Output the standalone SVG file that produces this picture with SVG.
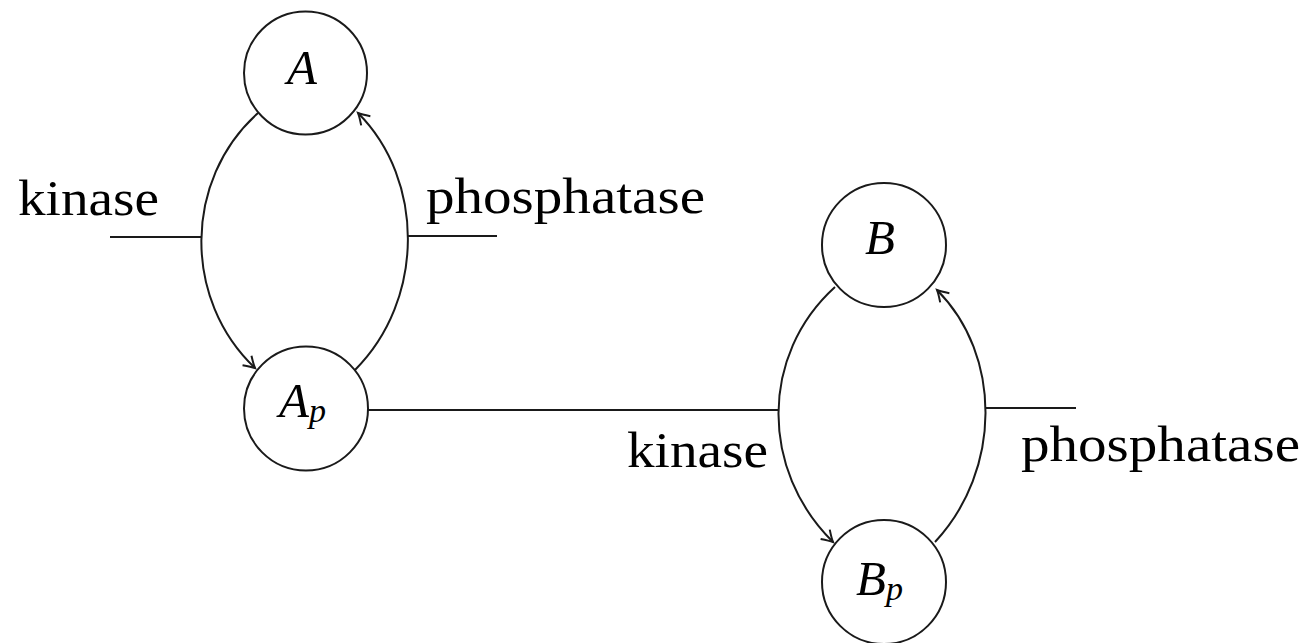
<svg xmlns="http://www.w3.org/2000/svg" width="1309" height="643" viewBox="0 0 1309 643">
<defs>
<marker id="arr" markerUnits="userSpaceOnUse" markerWidth="20" markerHeight="20" refX="0" refY="0" orient="auto" overflow="visible">
<path d="M-11,-6.5 Q-3.5,-1.5 0,0 Q-3.5,1.5 -11,6.5" fill="none" stroke="#1a1a1a" stroke-width="2"/>
</marker>
</defs>
<style>
.node{fill:#fff;stroke:#1a1a1a;stroke-width:2}
.edge{fill:none;stroke:#1a1a1a;stroke-width:2}
.lbl{font-family:"Liberation Serif","DejaVu Serif",serif;font-size:51px;fill:#000}
.math{font-family:"Liberation Serif","DejaVu Serif",serif;font-style:italic;font-size:49px;fill:#000}
.sub{font-size:34px}
</style>
<rect width="1309" height="643" fill="#fff"/>
<g id="connectors">
<path class="edge" d="M258,113 C183,180 183,300 255,368" marker-end="url(#arr)"/>
<path class="edge" d="M355,370 C425,300 425,180 358,113" marker-end="url(#arr)"/>
<path class="edge" d="M835,287 C760,355 760,470 833,542" marker-end="url(#arr)"/>
<path class="edge" d="M935,542 C1002,470 1002,355 937,290" marker-end="url(#arr)"/>
<line class="edge" x1="110" y1="237" x2="202" y2="237"/>
<line class="edge" x1="408" y1="236" x2="497" y2="236"/>
<line class="edge" x1="368" y1="410" x2="779" y2="410"/>
<line class="edge" x1="985" y1="408" x2="1076" y2="408"/>
</g>
<g id="labels">
<text class="lbl" x="18" y="215" textLength="141" lengthAdjust="spacingAndGlyphs">kinase</text>
<text class="lbl" x="426" y="213" textLength="279" lengthAdjust="spacingAndGlyphs">phosphatase</text>
<text class="lbl" x="627" y="467" textLength="141" lengthAdjust="spacingAndGlyphs">kinase</text>
<text class="lbl" x="1021" y="461" textLength="279" lengthAdjust="spacingAndGlyphs">phosphatase</text>
</g>
<g id="node-A">
<circle class="node" cx="305.5" cy="73" r="61.5"/>
<text class="math" x="302" y="84" text-anchor="middle">A</text>
</g>
<g id="node-Ap">
<circle class="node" cx="306" cy="408.5" r="62"/>
<text class="math" x="279" y="417">A<tspan class="sub" dy="5">p</tspan></text>
</g>
<g id="node-B">
<circle class="node" cx="884" cy="245" r="62"/>
<text class="math" x="880" y="254" text-anchor="middle">B</text>
</g>
<g id="node-Bp">
<circle class="node" cx="884" cy="582" r="62"/>
<text class="math" x="856" y="595">B<tspan class="sub" dy="5">p</tspan></text>
</g>
</svg>
